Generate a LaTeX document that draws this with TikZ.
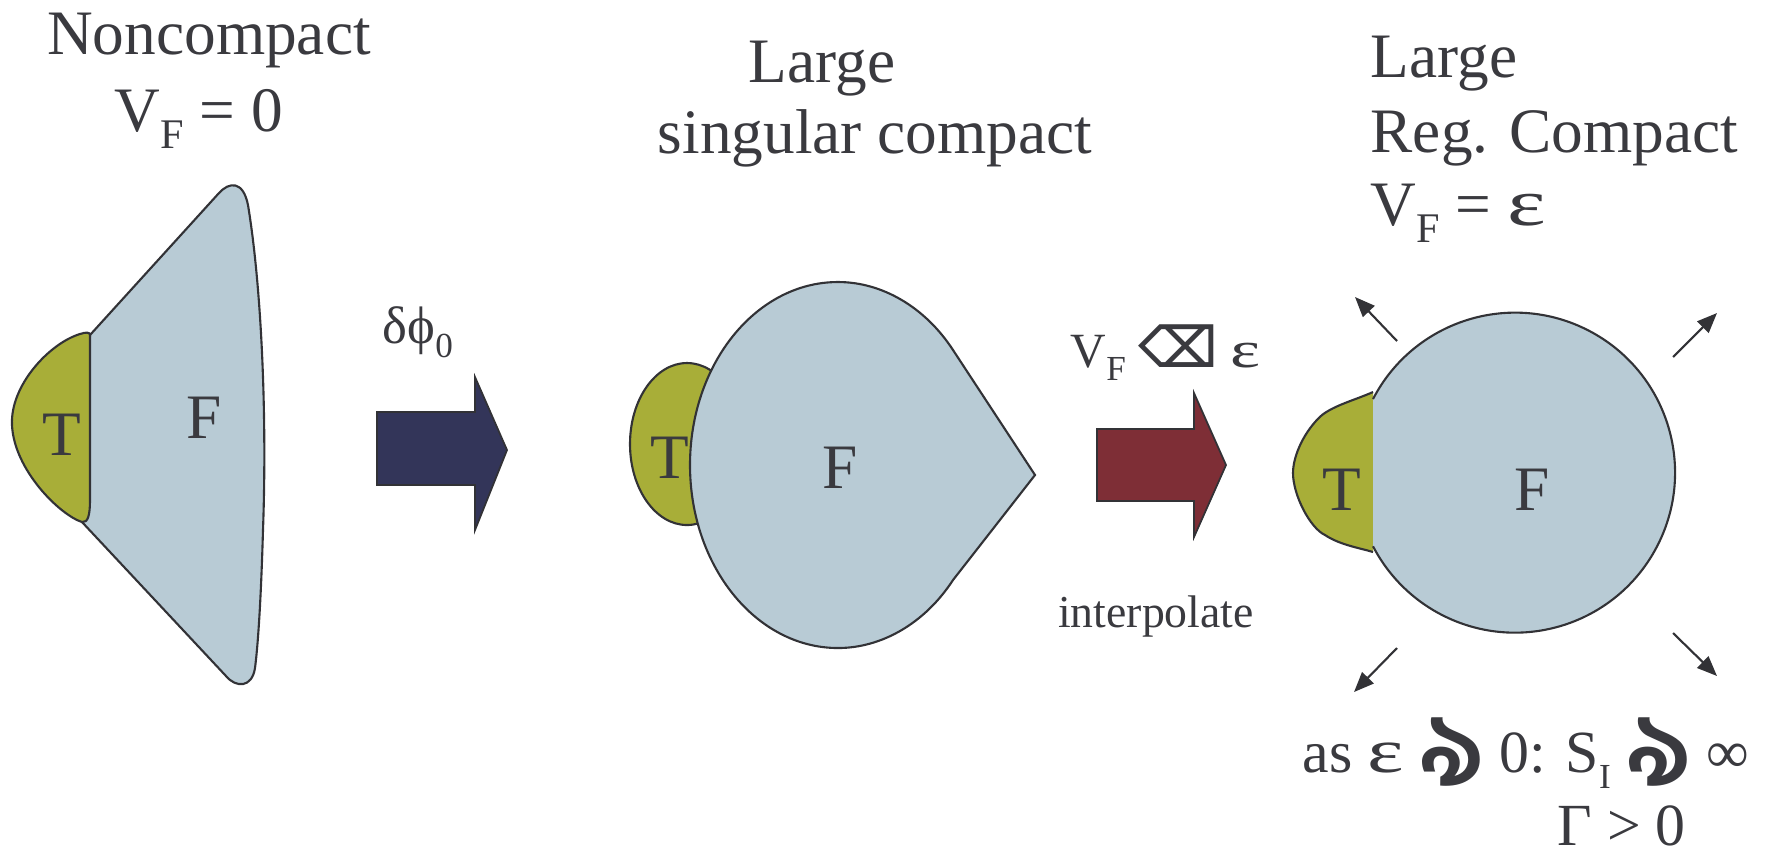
\documentclass[tikz,border=0pt]{standalone}
\usepackage{graphicx}
\usepackage{fontspec}
\setmainfont{Liberation Serif}
\newfontfamily\dejavu{DejaVu Sans}
\newfontfamily\bengfont[Script=Bengali]{Hind Siliguri}
\usetikzlibrary{arrows.meta}
\definecolor{tgreen}{RGB}{168,174,56}
\definecolor{fblue}{RGB}{184,203,213}
\definecolor{navy}{RGB}{51,53,89}
\definecolor{wine}{RGB}{126,46,54}
\definecolor{ink}{RGB}{58,58,63}
\definecolor{outline}{RGB}{50,50,54}
\newcommand{\lowsub}[2]{\raisebox{-0.28em}{\fontsize{#1}{#1}\selectfont #2}}
\newcommand{\wideeps}{\scalebox{1.45}[1.05]{ε}}
\newcommand{\oddarrow}{\raisebox{-0.22em}[\height][0pt]{\scalebox{1.15}[1]{\bengfont\bfseries\fontsize{26}{26}\selectfont ঌ}}}

\begin{document}
\begin{tikzpicture}[
    x=0.01cm, y=-0.01cm,
    title/.style={text=ink, inner sep=0pt, font=\fontsize{18}{21}\selectfont},
    label/.style={text=ink, inner sep=0pt, anchor=base, font=\fontsize{18}{21}\selectfont},
    region/.style={draw=outline, line width=0.6pt},
    blockarrow/.style={draw=outline, line width=0.5pt},
    spread/.style={draw=outline, line width=0.6pt, -{Triangle[length=0.2cm, width=0.16cm]}}
  ]
    \useasboundingbox (0,0) rectangle (1767,853);

    % noncompact
    \draw[region, fill=fblue] (90,335) -- (219,193) .. controls (229,182) and (243,180) .. (248,205)
      .. controls (262,290) and (267,420) .. (263,530) .. controls (261,600) and (258,645) .. (255,668)
      .. controls (252,688) and (236,688) .. (226,676) -- (82,522) -- cycle;
    \draw[region, fill=tgreen] (90,335) -- (90,500) .. controls (90,515) and (88,523) .. (82,522)
      .. controls (60,515) and (14,470) .. (12,425) .. controls (10,385) and (50,343) .. (80,334)
      .. controls (86,332) and (90,332) .. (90,335) -- cycle;
    \node[label] (t1) at (62,455) {T};
    \node[label] (f1) at (204,438) {F};
    \node[title, anchor=base] (nc) at (209,54) {Noncompact};
    \node[title, anchor=base] (v1) at (199,131) {V\lowsub{12}{F} = 0};

    % first step
    \draw[blockarrow, fill=navy] (377,412) -- (475,412) -- (475,377) -- (507,450) -- (475,530)
      -- (475,485) -- (377,485) -- cycle;
    \node[text=ink, inner sep=0pt, anchor=base west, font=\fontsize{15}{18}\selectfont] (dp) at (382,343) {δϕ\lowsub{10}{0}};

    % singular compact
    \draw[region, fill=tgreen] (687,444) ellipse [x radius=57, y radius=81];
    \draw[region, fill=fblue] (838,282) .. controls (882,282) and (925,307) .. (953,350) -- (1035,475)
      -- (953,580) .. controls (925,623) and (882,648) .. (838,648)
      .. controls (756,648) and (690,566) .. (690,465) .. controls (690,364) and (756,282) .. (838,282) -- cycle;
    \node[label] (t2) at (670,478) {T};
    \node[label] (f2) at (840,488) {F};
    \node[title, anchor=base] (lg1) at (822,82) {Large};
    \node[title, anchor=base] (sc) at (875,153) {singular compact};

    % second step
    \draw[blockarrow, fill=wine] (1097,429) -- (1194,429) -- (1194,393) -- (1226,465) -- (1194,537)
      -- (1194,501) -- (1097,501) -- cycle;
    \node[text=ink, inner sep=0pt, anchor=base west, font=\fontsize{14}{17}\selectfont] (vf) at (1070,367) {V\lowsub{10}{F} {\dejavu\bfseries\fontsize{16}{16}\selectfont ⌫} \wideeps};
    \node[text=ink, inner sep=0pt, anchor=base, font=\fontsize{13}{16}\selectfont] (ip) at (1156,627) {interpolate};

    % regular compact
    \fill[tgreen] (1373,392) .. controls (1355,400) and (1335,405) .. (1322,415)
      .. controls (1305,430) and (1293,455) .. (1293,473) .. controls (1293,495) and (1310,528) .. (1325,535)
      .. controls (1340,545) and (1360,548) .. (1373,552) -- cycle;
    \draw[region] (1373,392) .. controls (1355,400) and (1335,405) .. (1322,415)
      .. controls (1305,430) and (1293,455) .. (1293,473) .. controls (1293,495) and (1310,528) .. (1325,535)
      .. controls (1340,545) and (1360,548) .. (1373,552);
    \fill[fblue] (1373,399) arc[start angle=-152.6, end angle=152.6, radius=160] -- cycle;
    \draw[region] (1373,399) arc[start angle=-152.6, end angle=152.6, radius=160];
    \node[label] (t3) at (1342,510) {T};
    \node[label] (f3) at (1532,510) {F};
    \foreach \n/\sx/\sy/\ex/\ey in {a/1397/341/1355/297, b/1673/357/1717/313, c/1397/648/1354/692, d/1673/633/1717/676} {
      \coordinate (\n0) at (\sx,\sy);
      \coordinate (\n1) at (\ex,\ey);
      \draw[spread] (\n0) -- (\n1);
    }
    \node[title, anchor=base west] (lg2) at (1370,77) {Large};
    \node[title, anchor=base west] (rg) at (1370,152) {Reg. Compact};
    \node[title, anchor=base west] (v3) at (1370,225) {V\lowsub{12}{F} = \wideeps};
    \node[text=ink, inner sep=0pt, anchor=base west, align=left, font=\fontsize{17}{20.7}\selectfont] (lim) at (1302,845)
      {as \wideeps{} \oddarrow{} 0: S\lowsub{10}{I} \oddarrow{} ∞\\ \hspace*{2.55cm}Γ > 0};
  \end{tikzpicture}
\end{document}
